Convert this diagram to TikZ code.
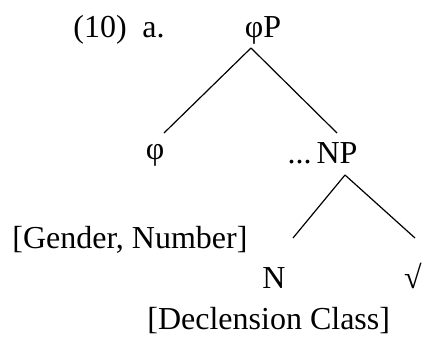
\documentclass[tikz,border=0pt]{standalone}
\usepackage{fontspec}
\setmainfont{Liberation Serif}
\usepackage{xcolor}
\usepackage{tikz}
\usetikzlibrary{positioning}

\begin{document}
\begin{tikzpicture}[
  x=0.5pt,y=-0.5pt,
  cat/.style={inner sep=0pt,anchor=base,font=\fontsize{16}{19}\selectfont},
  note/.style={cat,anchor=base west},
  branch/.style={line width=0.6pt,color=black}
]
\useasboundingbox (0,0) rectangle (424,338);
\node[note] (num) at (73,37) {(10)};
\node[note] (sub) at (142,37) {a.};
\node[cat] (phiP) at (263,37) {φP};
\node[cat] (phi) at (155,159) {φ};
\node[cat] (NP) at (337,163) {NP};
\node[cat,anchor=base east] (dots) at (312,163) {...};
\node[note] (feat) at (12,248) {[Gender, Number]};
\node[cat] (N) at (274,288) {N};
\node[cat] (root) at (413,288) {√};
\node[note] (decl) at (147,329) {[Declension Class]};
\draw[branch] ([xshift=-6pt,yshift=-5.5pt]phiP.base) -- ([xshift=4.5pt,yshift=13pt]phi.base);
\draw[branch] ([xshift=-6pt,yshift=-5.5pt]phiP.base) -- ([yshift=15pt]NP.base);
\draw[branch] ([xshift=4pt,yshift=-6pt]NP.base) -- ([xshift=9.5pt,yshift=25pt]N.base);
\draw[branch] ([xshift=4pt,yshift=-6pt]NP.base) -- ([xshift=1pt,yshift=25pt]root.base);
\end{tikzpicture}
\end{document}
